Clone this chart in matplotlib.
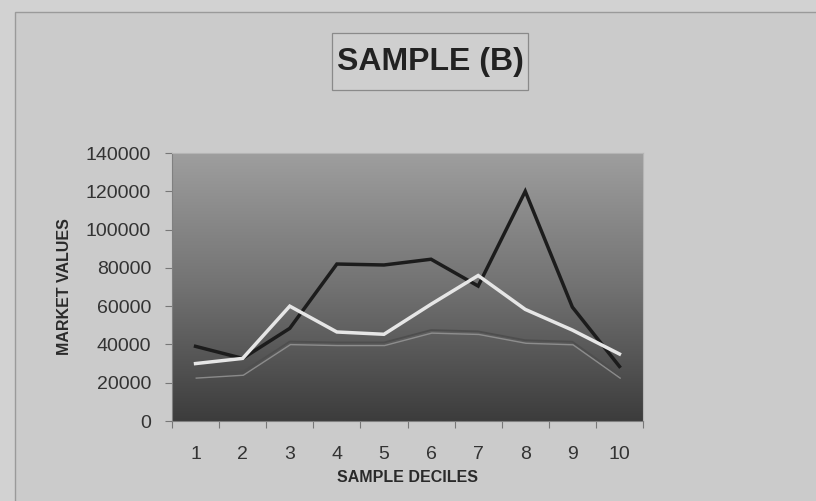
import numpy as np
import matplotlib
matplotlib.use("Agg")
import matplotlib.pyplot as plt
from matplotlib.patches import Rectangle
import matplotlib.patheffects as pe

deciles = [1, 2, 3, 4, 5, 6, 7, 8, 9, 10]
series_black = [39000, 32700, 48400, 82000, 81500, 84500, 70500, 120000, 59500, 28500]
series_white = [30000, 32700, 60000, 46500, 45300, 61000, 76000, 58300, 47500, 35000]
series_gray = [24000, 25500, 41500, 41000, 41000, 47500, 46800, 42200, 41400, 24000]
y_ticks = [0, 20000, 40000, 60000, 80000, 100000, 120000, 140000]

plt.rcParams['font.family'] = ['Liberation Sans', 'DejaVu Sans']

W, H = 816, 501
fig = plt.figure(figsize=(W / 100, H / 100), dpi=100)
fig.patch.set_facecolor('#d2d2d2')

# chart frame
fig.patches.append(Rectangle((15 / W, -0.05), 1.2, 1 - 12 / H + 0.05,
                             transform=fig.transFigure, facecolor='#cbcbcb',
                             edgecolor='#9a9a9a', linewidth=1.0, zorder=-5))

ax = fig.add_axes([172 / W, 1 - 421 / H, (643 - 172) / W, (421 - 153) / H])
ax.set_zorder(2)
ax.set_facecolor('none')

# vertical gradient fill of the plot area
grad = np.linspace(0, 1, 256)[:, None]
top = np.array([0x9e, 0x9e, 0x9e]) / 255
mid = np.array([0x72, 0x72, 0x72]) / 255
bot = np.array([0x3c, 0x3c, 0x3c]) / 255
cols = np.where(grad[..., None] < 0.5,
                top + (mid - top) * (grad[..., None] / 0.5),
                mid + (bot - mid) * ((grad[..., None] - 0.5) / 0.5))
ax.imshow(cols, extent=[0, 1, 0, 1], transform=ax.transAxes, aspect='auto',
          zorder=0, interpolation='bilinear')

ax.plot(deciles, series_gray, color='#4e4e4e', linewidth=1.3, zorder=2,
        path_effects=[pe.SimpleLineShadow(offset=(0.5, -2.2), shadow_color='#9a9a9a', alpha=0.8, linewidth=1.0),
                      pe.Normal()])
ax.plot(deciles, series_black, color='#1c1c1c', linewidth=2.5, zorder=3,
        solid_joinstyle='miter')
ax.plot(deciles, series_white, color='#e6e6e6', linewidth=2.5, zorder=4,
        solid_joinstyle='miter')

ax.set_xlim(0.5, 10.5)
ax.set_ylim(0, 140000)
ax.set_yticks(y_ticks)
ax.set_yticklabels([str(v) for v in y_ticks])
ax.set_xticks(np.arange(0.5, 11, 1))
ax.set_xticklabels([])
ax.set_xticks(deciles, minor=True)
ax.set_xticklabels([str(d) for d in deciles], minor=True)
ax.tick_params(axis='x', which='major', length=5, color='#777777', direction='out')
ax.tick_params(axis='x', which='minor', length=0, pad=18, labelsize=14, labelcolor='#333333')
ax.tick_params(axis='y', length=5, color='#777777', direction='out', pad=10,
               labelsize=14, labelcolor='#333333')

for side in ['top', 'right']:
    ax.spines[side].set_color('#b5b5b5')
    ax.spines[side].set_linewidth(0.8)
ax.spines['left'].set_color('#808080')
ax.spines['bottom'].set_color('#808080')

ax.set_ylabel('MARKET VALUES', fontsize=11.5, fontweight='bold', color='#2a2a2a', labelpad=10)
ax.set_xlabel('SAMPLE DECILES', fontsize=11.5, fontweight='bold', color='#2a2a2a', labelpad=5)

# title box
fig.patches.append(Rectangle((332 / W, 1 - 90 / H), (528 - 332) / W, (90 - 33) / H,
                             transform=fig.transFigure, facecolor='#cfcfcf',
                             edgecolor='#8a8a8a', linewidth=0.9, zorder=1))
fig.text(430 / W, 1 - 62 / H, 'SAMPLE (B)', ha='center', va='center',
         fontsize=23, fontweight='bold', color='#222222', zorder=3)

fig.savefig('out.png', dpi=100, facecolor=fig.get_facecolor())
